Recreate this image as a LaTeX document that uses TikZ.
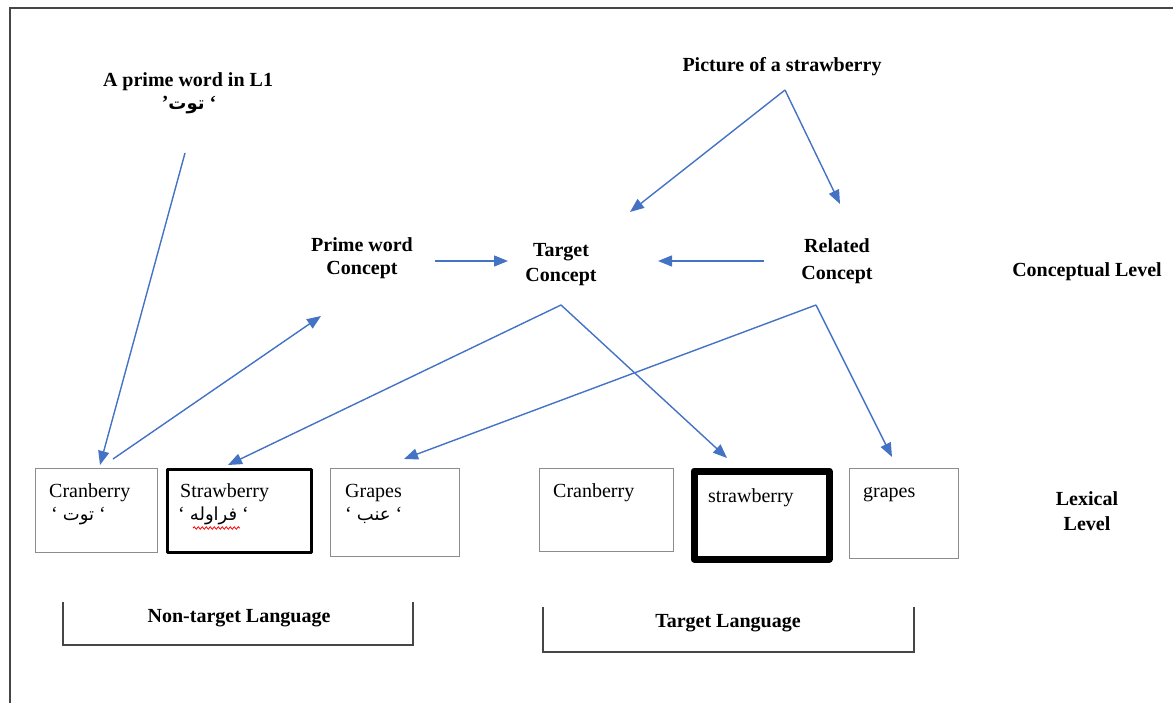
\documentclass[tikz,border=0pt]{standalone}
\usepackage{fontspec}
\setmainfont{Liberation Serif}
\newfontfamily\arabicfont[Script=Arabic]{DejaVu Sans}
\TeXXeTstate=1
\usetikzlibrary{arrows.meta,decorations.pathmorphing}
\definecolor{linkblue}{RGB}{68,114,196}
\definecolor{boxgray}{RGB}{140,140,140}
\definecolor{framegray}{RGB}{70,70,70}
% right-to-left Arabic word
\newcommand{\arword}[1]{{\arabicfont\fontsize{18}{22}\selectfont\beginR #1\endR}}
\begin{document}
\begin{tikzpicture}[x=1pt,y=-1pt,
  label/.style={font=\fontsize{20}{24}\selectfont\bfseries, inner sep=0pt, anchor=base},
  word/.style={font=\fontsize{20}{24}\selectfont, inner sep=0pt, anchor=base west},
  wordbox/.style={draw=boxgray, line width=1.2pt, inner sep=0pt, anchor=north west},
  heavybox/.style={draw=black, line join=round, inner sep=0pt, anchor=north west},
  bracket/.style={draw=framegray, line width=1.8pt},
  link/.style={draw=linkblue, line width=1.4pt, -{Triangle[length=14pt,width=11pt]}}]
\useasboundingbox (0,0) rectangle (1173,703);

% frame
\draw[framegray, line width=1.5pt] (10,703) -- (10,8) -- (1173,8);

% conceptual level labels
\node[label] (prime)  at (188,87) {A prime word in L1};
\node[label] (primear) at (189,110) {’\arword{\bfseries توت} ‘};
\node[label] (pict)   at (782,72) {Picture of a strawberry};
\node[label] (pwc1)   at (362,252) {Prime word};
\node[label] (pwc2)   at (362,275) {Concept};
\node[label] (tc1)    at (561,257) {Target};
\node[label] (tc2)    at (561,282) {Concept};
\node[label] (rc1)    at (837,253) {Related};
\node[label] (rc2)    at (837,280) {Concept};
\node[label] (clevel) at (1087,277) {Conceptual Level};
\node[label] (llev1)  at (1087,505) {Lexical};
\node[label] (llev2)  at (1087,530) {Level};

% lexical boxes, non-target language
\node[wordbox, minimum width=122pt, minimum height=84pt] (ntcran) at (34.6,467.6) {};
\node[heavybox, line width=3pt, minimum width=144pt, minimum height=83pt] (ntstraw) at (165.5,467.5) {};
\node[wordbox, minimum width=129pt, minimum height=88pt] (ntgrape) at (329.6,467.6) {};
\node[word] (ntcrant) at (49,497) {Cranberry};
\node[word] (ntcrana) at (51,520) {‘ \arword{توت} ‘};
\node[word] (ntstrawt) at (180,497) {Strawberry};
\node[word] (ntstrawa) at (178,520) {‘ \arword{فراوله} ‘};
\node[word] (ntgrapet) at (345,497) {Grapes};
\node[word] (ntgrapea) at (345,520) {‘ \arword{عنب} ‘};
\coordinate (sqa) at (193,528);
\coordinate (sqb) at (240,528);
\draw[red, line width=0.8pt, decorate, decoration={snake, amplitude=1.2pt, segment length=4pt}] (sqa) -- (sqb);

% lexical boxes, target language
\node[wordbox, minimum width=134pt, minimum height=83pt] (tcran) at (538.6,467.6) {};
\node[heavybox, line width=7pt, minimum width=135pt, minimum height=88pt] (tstraw) at (690.5,467.5) {};
\node[wordbox, minimum width=109pt, minimum height=90pt] (tgrape) at (848.6,467.6) {};
\node[word] (tcrant) at (553,497) {Cranberry};
\node[word] (tstrawt) at (708,502) {strawberry};
\node[word] (tgrapet) at (863,497) {grapes};

% language brackets
\draw[bracket] (63,602) -- (63,645) -- (413,645) -- (413,602);
\node[label] (ntlang) at (239,622) {Non-target Language};
\draw[bracket] (543,607) -- (543,652) -- (914,652) -- (914,607);
\node[label] (tlang) at (728,627) {Target Language};

% connector end points
\coordinate (p1) at (185,153);
\coordinate (p2) at (100,465);
\coordinate (q1) at (113,459);
\coordinate (q2) at (321,316);
\coordinate (r1) at (435,261);
\coordinate (r2) at (508,261);
\coordinate (s1) at (764,261);
\coordinate (s2) at (658,261);
\coordinate (papex) at (785,90);
\coordinate (pl) at (630,212);
\coordinate (pr) at (840,204);
\coordinate (tapex) at (561,305);
\coordinate (tl) at (228,465);
\coordinate (tr) at (727,458);
\coordinate (rapex) at (816,305);
\coordinate (rl) at (404,459);
\coordinate (rr) at (892,457);

% connectors
\draw[link] (p1) -- (p2);
\draw[link] (q1) -- (q2);
\draw[link] (r1) -- (r2);
\draw[link] (s1) -- (s2);
\draw[link] (papex) -- (pl);
\draw[link] (papex) -- (pr);
\draw[link] (tapex) -- (tl);
\draw[link] (tapex) -- (tr);
\draw[link] (rapex) -- (rl);
\draw[link] (rapex) -- (rr);
\end{tikzpicture}
\end{document}
